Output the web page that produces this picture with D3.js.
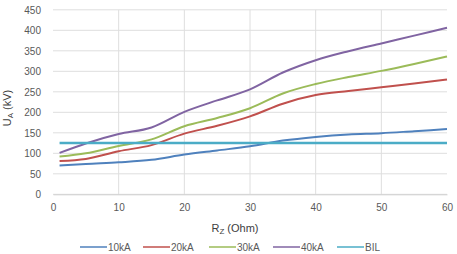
<!DOCTYPE html>
<html>
<head>
<meta charset="utf-8">
<script src="https://cdn.jsdelivr.net/npm/d3@7"></script>
<style>
  body { margin: 0; background: #fff; }
  text { font-family: "Liberation Sans", Arial, sans-serif; }
</style>
</head>
<body>
<svg></svg>
<script>
var width = 457;
var height = 254;

// data
var rz = [1, 5, 10, 15, 20, 25, 30, 35, 40, 45, 50, 55, 60];
var ua10 = [70, 74, 78, 84, 97, 107, 117, 131, 140, 146, 149, 154, 159];
var ua20 = [81, 86, 105, 120, 148, 167, 190, 221, 242, 252, 261, 270, 280];
var ua30 = [92, 100, 118, 134, 166, 186, 210, 246, 269, 286, 301, 318, 336];
var ua40 = [101, 124, 147, 163, 201, 229, 256, 297, 327, 349, 368, 387, 406];
var bil = [125, 125, 125, 125, 125, 125, 125, 125, 125, 125, 125, 125, 125];
var seriesNames = ["10kA", "20kA", "30kA", "40kA", "BIL"];
var seriesColors = ["#4F81BD", "#C0504D", "#9BBB59", "#8064A2", "#4BACC6"];
var xTicks = [0, 10, 20, 30, 40, 50, 60];
var yTicks = [0, 50, 100, 150, 200, 250, 300, 350, 400, 450];

var allSeries = [ua10, ua20, ua30, ua40, bil];

var xScale = d3.scaleLinear().domain([0, 60]).range([53, 447]);
var yScale = d3.scaleLinear().domain([0, 450]).range([194.3, 9.8]);

var svg = d3.select("svg")
  .attr("width", width)
  .attr("height", height);

// gridlines
svg.append("g")
  .selectAll("line")
  .data(yTicks)
  .enter()
  .append("line")
    .attr("x1", xScale(0))
    .attr("x2", xScale(60))
    .attr("y1", d => yScale(d))
    .attr("y2", d => yScale(d))
    .attr("stroke", "#dedede")
    .attr("stroke-width", 1);

svg.append("g")
  .selectAll("line")
  .data(xTicks.filter(d => d > 0 && d < 60))
  .enter()
  .append("line")
    .attr("x1", d => xScale(d))
    .attr("x2", d => xScale(d))
    .attr("y1", yScale(450))
    .attr("y2", yScale(0))
    .attr("stroke", "#dedede")
    .attr("stroke-width", 1);

// axes
var xAxis = svg.append("g")
  .attr("transform", "translate(0," + yScale(0) + ")")
  .call(d3.axisBottom(xScale).tickValues(xTicks).tickSize(0).tickPadding(10));
xAxis.select(".domain").attr("stroke", "#d0d0d0");
xAxis.selectAll("text").attr("fill", "#595959").style("font-size", "10px");

var yAxis = svg.append("g")
  .attr("transform", "translate(" + (xScale(0) - 12) + ",0)")
  .call(d3.axisLeft(yScale).tickValues(yTicks).tickSize(0).tickPadding(0));
yAxis.select(".domain").remove();
yAxis.selectAll("text").attr("fill", "#595959").style("font-size", "10px");

// series
var line = d3.line()
  .x((d, i) => xScale(rz[i]))
  .y(d => yScale(d))
  .curve(d3.curveMonotoneX);

svg.append("g")
  .selectAll("path")
  .data(allSeries)
  .enter()
  .append("path")
    .attr("d", d => line(d))
    .attr("fill", "none")
    .attr("stroke", (d, i) => seriesColors[i])
    .attr("stroke-width", (d, i) => i == 4 ? 2.4 : 2);

// axis titles
var xTitle = svg.append("text")
  .attr("x", 235)
  .attr("y", 232)
  .attr("text-anchor", "middle")
  .attr("fill", "#404040")
  .style("font-size", "11px");
xTitle.append("tspan").text("R");
xTitle.append("tspan").attr("dy", 2).style("font-size", "8px").text("Z");
xTitle.append("tspan").attr("dy", -2).text(" (Ohm)");

var yTitle = svg.append("text")
  .attr("transform", "rotate(-90)")
  .attr("x", -108)
  .attr("y", 11)
  .attr("text-anchor", "middle")
  .attr("fill", "#404040")
  .style("font-size", "11px");
yTitle.append("tspan").text("U");
yTitle.append("tspan").attr("dy", 2).style("font-size", "8px").text("A");
yTitle.append("tspan").attr("dy", -2).text(" (kV)");

// legend
var legendX = [80, 143, 209, 273, 337];
var legend = svg.append("g")
  .selectAll("g")
  .data(seriesNames)
  .enter()
  .append("g")
    .attr("transform", (d, i) => "translate(" + legendX[i] + ",247)");

legend.append("line")
  .attr("x1", 0)
  .attr("x2", 27)
  .attr("stroke", (d, i) => seriesColors[i])
  .attr("stroke-width", 1.5);

legend.append("text")
  .attr("x", 28)
  .attr("y", 3.5)
  .attr("fill", "#595959")
  .style("font-size", "10px")
  .text(d => d);
</script>
</body>
</html>
